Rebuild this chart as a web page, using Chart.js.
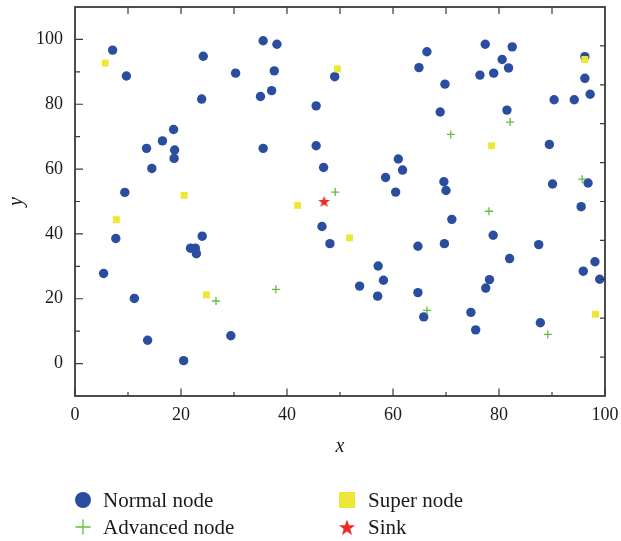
<!DOCTYPE html>
<html>
<head>
<meta charset="utf-8">
<script src="https://cdn.jsdelivr.net/npm/chart.js@4.4.0/dist/chart.umd.min.js"></script>
<style>
html, body { margin: 0; padding: 0; background: #fff; }
</style>
</head>
<body>
<canvas id="grafik" width="621" height="541"></canvas>
<script>
// Normal nodes
const normalX = [7.1, 9.7, 24.2, 23.9, 30.3, 35.5, 38.1, 37.6, 37.1, 35.0, 45.5, 49.0, 18.6, 16.5, 13.5, 18.8, 18.7, 14.5, 35.5, 45.5, 46.9, 9.4,
    66.4, 64.9, 69.8, 68.9, 77.4, 82.5, 80.6, 81.8, 76.4, 79.0, 81.5, 96.2, 96.2, 90.4, 94.2, 97.2, 89.5, 61.0, 61.8, 58.6, 60.5, 69.6, 70.0, 90.1, 96.8,
    7.7, 5.4, 11.2, 13.7, 20.5, 29.4, 24.0, 21.8, 22.7, 22.9, 46.6, 48.1,
    71.1, 78.9, 64.7, 69.7, 87.5, 82.0, 95.5, 98.1, 95.9, 99.0, 57.2, 58.2, 53.7, 57.1, 64.7, 78.2, 77.5, 65.8, 74.7, 75.6, 87.8];
const normalY = [96.7, 88.7, 94.8, 81.6, 89.6, 99.6, 98.5, 90.3, 84.2, 82.4, 79.5, 88.5, 72.2, 68.7, 66.4, 65.9, 63.3, 60.2, 66.4, 67.2, 60.5, 52.8,
    96.2, 91.3, 86.2, 77.6, 98.5, 97.7, 93.8, 91.2, 89.0, 89.6, 78.2, 94.7, 88.0, 81.4, 81.4, 83.1, 67.6, 63.1, 59.7, 57.4, 52.9, 56.1, 53.4, 55.4, 55.7,
    38.6, 27.8, 20.1, 7.2, 0.9, 8.6, 39.3, 35.6, 35.6, 33.9, 42.3, 37.0,
    44.5, 39.6, 36.2, 37.0, 36.7, 32.4, 48.4, 31.4, 28.5, 26.0, 30.1, 25.7, 23.9, 20.8, 21.9, 25.9, 23.3, 14.4, 15.8, 10.4, 12.6];

// Advanced nodes
const advX = [49.1, 70.9, 82.1, 95.7, 26.6, 37.9, 78.1, 66.4, 89.2];
const advY = [52.9, 70.7, 74.5, 56.9, 19.3, 22.9, 47.0, 16.4, 9.0];

// Super nodes
const superX = [5.7, 20.6, 49.5, 96.2, 78.6, 7.8, 24.8, 42.0, 51.8, 98.2];
const superY = [92.7, 51.9, 90.9, 93.8, 67.2, 44.4, 21.2, 48.8, 38.8, 15.2];

// Sink
const sinkX = [47.0];
const sinkY = [50.0];

const legendLabels = ['Normal node', 'Advanced node', 'Super node', 'Sink'];

// Axis ticks
const xLabelTicks = [0, 20, 40, 60, 80, 100];
const xMinorTicks = [10, 30, 50, 70, 90];
const yLabelTicks = [0, 20, 40, 60, 80, 100];
const yMinorTicks = [10, 30, 50, 70, 90];
const topTicks = [10, 20, 30, 40, 50, 60, 70, 80, 90];
const rightTicks = [2, 14, 26, 38, 50, 62, 74, 86, 98];

const BLUE = '#2b4da0';
const GREEN = '#62bf3c';
const YELLOW = '#efe736';
const RED = '#ef2a2a';
const AXIS = '#3a3a3a';
const SERIF = "'Liberation Serif', 'DejaVu Serif', serif";

function toPoints(xs, ys) {
    return xs.map((x, i) => ({ x: x, y: ys[i] }));
}

function drawStar(ctx, cx, cy, outer, inner) {
    ctx.beginPath();
    for (let i = 0; i < 10; i++) {
        const r = i % 2 === 0 ? outer : inner;
        const a = -Math.PI / 2 + i * Math.PI / 5;
        const px = cx + r * Math.cos(a);
        const py = cy + r * Math.sin(a);
        if (i === 0) ctx.moveTo(px, py); else ctx.lineTo(px, py);
    }
    ctx.closePath();
    ctx.fill();
}

// star marker image for the sink
const starImg = document.createElement('canvas');
starImg.width = 13;
starImg.height = 13;
(function() {
    const c = starImg.getContext('2d');
    c.fillStyle = RED;
    drawStar(c, 6.5, 7, 6.2, 2.6);
})();

// no extra room for edge labels, the frame sits at fixed spots
function noEdgePadding(s) {
    s.paddingTop = 0;
    s.paddingBottom = 0;
    s.paddingLeft = 0;
    s.paddingRight = 0;
}

// Frame, tick marks and legend
const framePlugin = {
    id: 'frame',
    afterDraw(chart) {
        const ctx = chart.ctx;
        const a = chart.chartArea;
        const xs = chart.scales.x;
        const ys = chart.scales.y;
        ctx.save();
        ctx.strokeStyle = AXIS;
        ctx.lineWidth = 1.2;
        ctx.beginPath();
        xLabelTicks.forEach(v => { const p = xs.getPixelForValue(v); ctx.moveTo(p, a.bottom); ctx.lineTo(p, a.bottom - 7.5); });
        xMinorTicks.forEach(v => { const p = xs.getPixelForValue(v); ctx.moveTo(p, a.bottom); ctx.lineTo(p, a.bottom - 4); });
        topTicks.forEach(v => { const p = xs.getPixelForValue(v); ctx.moveTo(p, a.top); ctx.lineTo(p, a.top + 7); });
        yLabelTicks.forEach(v => { const p = ys.getPixelForValue(v); ctx.moveTo(a.left, p); ctx.lineTo(a.left + 8, p); });
        yMinorTicks.forEach(v => { const p = ys.getPixelForValue(v); ctx.moveTo(a.left, p); ctx.lineTo(a.left + 5, p); });
        rightTicks.forEach(v => { const p = ys.getPixelForValue(v); ctx.moveTo(a.right, p); ctx.lineTo(a.right - 5, p); });
        ctx.stroke();
        ctx.lineWidth = 1.8;
        ctx.strokeRect(a.left, a.top, a.right - a.left, a.bottom - a.top);

        // legend
        const col1 = 83, col2 = 347, txt1 = 103, txt2 = 368;
        const row1 = 500, row2 = 527;
        ctx.fillStyle = BLUE;
        ctx.beginPath();
        ctx.arc(col1, row1, 8, 0, Math.PI * 2);
        ctx.fill();
        ctx.strokeStyle = GREEN;
        ctx.lineWidth = 1.3;
        ctx.beginPath();
        ctx.moveTo(col1 - 7.5, row2); ctx.lineTo(col1 + 7.5, row2);
        ctx.moveTo(col1, row2 - 7.5); ctx.lineTo(col1, row2 + 7.5);
        ctx.stroke();
        ctx.fillStyle = YELLOW;
        ctx.fillRect(col2 - 8, row1 - 8, 16, 16);
        ctx.fillStyle = RED;
        drawStar(ctx, col2, row2 + 1, 8.5, 3.5);

        ctx.fillStyle = '#1a1a1a';
        ctx.font = '21px ' + SERIF;
        ctx.textBaseline = 'alphabetic';
        ctx.textAlign = 'left';
        ctx.fillText(legendLabels[0], txt1, row1 + 6.5);
        ctx.fillText(legendLabels[1], txt1, row2 + 6.5);
        ctx.fillText(legendLabels[2], txt2, row1 + 6.5);
        ctx.fillText(legendLabels[3], txt2, row2 + 6.5);
        ctx.restore();
    }
};

const tickFont = { family: SERIF, size: 18 };

const chart = new Chart(document.getElementById('grafik').getContext('2d'), {
    type: 'scatter',
    data: {
        datasets: [
            { label: legendLabels[0], order: 3, data: toPoints(normalX, normalY), pointStyle: 'circle', pointRadius: 4.7, pointBorderWidth: 0, backgroundColor: BLUE, borderColor: BLUE },
            { label: legendLabels[1], order: 2, data: toPoints(advX, advY), pointStyle: 'cross', pointRadius: 4, pointBorderWidth: 1.3, backgroundColor: GREEN, borderColor: GREEN },
            { label: legendLabels[2], order: 1, data: toPoints(superX, superY), pointStyle: 'rect', pointRadius: 4.9, pointBorderWidth: 0, backgroundColor: YELLOW, borderColor: YELLOW },
            { label: legendLabels[3], order: 0, data: toPoints(sinkX, sinkY), pointStyle: starImg, pointRadius: 6 }
        ]
    },
    options: {
        responsive: false,
        animation: false,
        devicePixelRatio: 1,
        layout: { padding: { top: 4, right: 16, bottom: 82, left: 0 } },
        plugins: { legend: { display: false }, tooltip: { enabled: false } },
        scales: {
            x: {
                type: 'linear', min: 0, max: 100,
                afterBuildTicks: s => { s.ticks = xLabelTicks.map(v => ({ value: v })); },
                afterFit: s => { s.height = 63; noEdgePadding(s); },
                ticks: { font: tickFont, color: '#1a1a1a', padding: 8, maxRotation: 0 },
                grid: { display: false, drawTicks: false },
                border: { display: false },
                title: { display: true, text: 'x', font: { family: SERIF, size: 20, style: 'italic' }, color: '#1a1a1a', padding: 0 }
            },
            y: {
                type: 'linear', min: -10, max: 110,
                afterBuildTicks: s => { s.ticks = yLabelTicks.map(v => ({ value: v })); },
                afterFit: s => { s.width = 75; noEdgePadding(s); },
                ticks: { font: tickFont, color: '#1a1a1a', padding: 12 },
                grid: { display: false, drawTicks: false },
                border: { display: false },
                title: { display: true, text: 'y', font: { family: SERIF, size: 20, style: 'italic' }, color: '#1a1a1a', padding: 5 }
            }
        }
    },
    plugins: [framePlugin]
});
</script>
</body>
</html>
